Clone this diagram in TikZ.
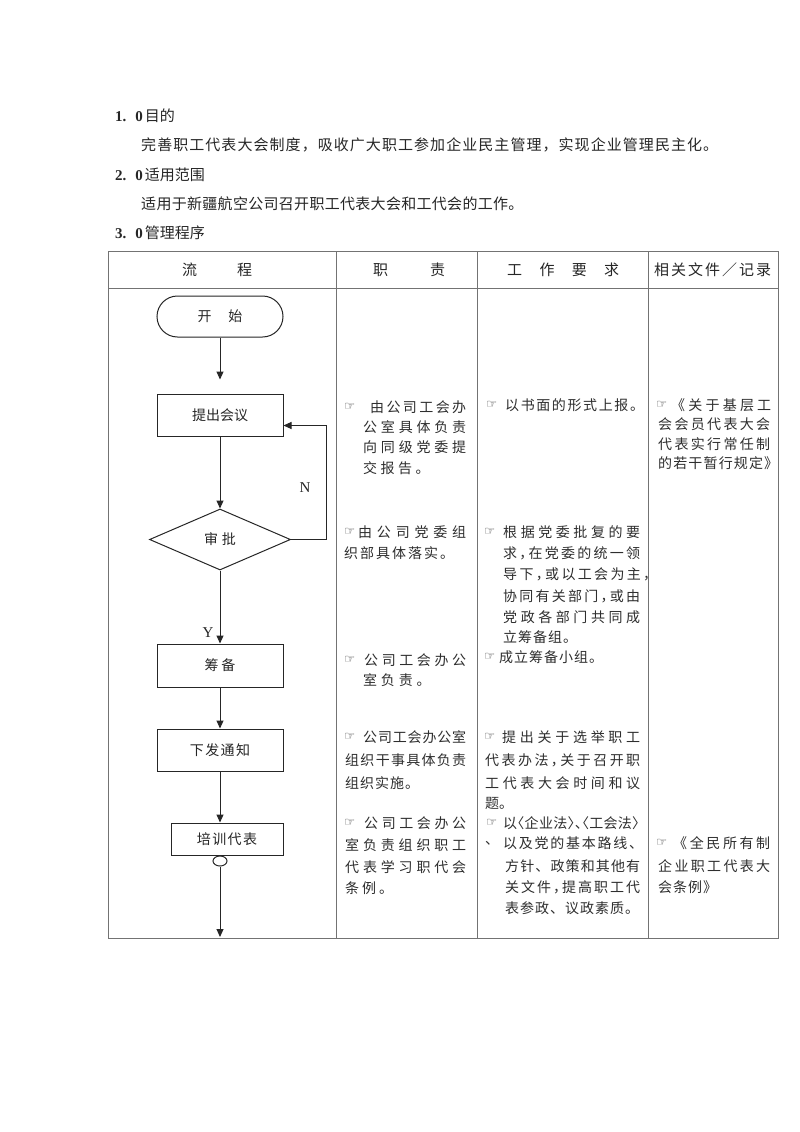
\documentclass[tikz,border=0pt]{standalone}
\usepackage{fontspec}
\setmainfont{Liberation Serif}
\newfontfamily\cjk{Noto Sans CJK SC}
\newfontfamily\cjkh[RawFeature=+halt]{Noto Sans CJK SC}
\newfontfamily\handfont{DejaVu Sans}
\usetikzlibrary{arrows.meta,shapes.geometric,calc}
\newdimen\cg
\def\jlx#1#2{#1\ifx\relax#2\else\hskip\cg plus 1fil\relax\expandafter\jlx\expandafter#2\fi}
\newcommand\js[2]{\makebox[#1pt][s]{\cg=0pt\jlx#2\relax}}
\newcommand\jn[2]{{\cg=#1\relax\jlx#2\relax}}
\newcommand\TLine[4]{\node[txt] (#1) at (#2,#3) {#4};}
\newcommand\THand[3]{\node[hand] (#1) at (#2,#3) {☞};}
\begin{document}
\begin{tikzpicture}[x=1pt,y=-1pt,
  flow/.style={draw=black!85,line width=1pt,text=black!85,font=\cjk\fontsize{14}{14}\selectfont},
  box/.style={flow,rectangle,inner sep=0},
  arr/.style={draw=black!85,line width=1pt,-{Triangle[length=8pt,width=7pt]}},
  grid/.style={draw=black!55,line width=1pt},
  txt/.style={anchor=west,inner sep=0,text=black!82,font=\cjk\fontsize{14}{14}\selectfont},
  hd/.style={anchor=west,inner sep=0,text=black!85,font=\cjk\fontsize{15}{15}\selectfont},
  hand/.style={anchor=west,inner sep=0,text=black!75,font=\handfont\fontsize{12.5}{12.5}\selectfont},
  lat/.style={inner sep=0,text=black!85,font=\fontsize{15}{15}\selectfont}]
\useasboundingbox (0,0) rectangle (800,1132);
\fill[white] (0,0) rectangle (800,1132);

% headings
\node[hd] (h1) at (115,116) {{\rmfamily\bfseries\fontsize{15}{15}\selectfont 1.\hspace{9pt}0}\hspace{2pt}目的};
\node[hd] (b1) at (141,145) {\js{577}{完善职工代表大会制度，吸收广大职工参加企业民主管理，实现企业管理民主化。}};
\node[hd] (h2) at (115,175) {{\rmfamily\bfseries\fontsize{15}{15}\selectfont 2.\hspace{9pt}0}\hspace{2pt}适用范围};
\node[hd] (b2) at (141,204) {\jn{0.3pt}{适用于新疆航空公司召开职工代表大会和工代会的工作。}};
\node[hd] (h3) at (115,233) {{\rmfamily\bfseries\fontsize{15}{15}\selectfont 3.\hspace{9pt}0}\hspace{2pt}管理程序};

% table
\draw[grid] (108,251) rectangle (778,938);
\draw[grid] (108,288) -- (778,288);
\draw[grid] (336,251) -- (336,938);
\draw[grid] (477,251) -- (477,938);
\draw[grid] (648,251) -- (648,938);

\node[hd] (th1) at (182,269.5) {\jn{40pt}{流程}};
\node[hd] (th2) at (373,269.5) {\jn{42pt}{职责}};
\node[hd] (th3) at (507,269.5) {\jn{17.3pt}{工作要求}};
\node[hd] (th4) at (654,269.5) {\cjkh\jn{2pt}{相关文件／记录}};

% flow chart
\node[box, rounded corners=20.5pt, minimum width=126pt, minimum height=41pt] (start) at (220,316.5) {\jn{17pt}{开始}};
\node[box, minimum width=126pt, minimum height=42pt] (p1) at (220,415) {\jn{0pt}{提出会议}};
\node[flow, diamond, inner sep=0, minimum width=141pt, minimum height=61pt] (d) at (220,539.5) {\jn{4pt}{审批}};
\node[box, minimum width=126pt, minimum height=43pt] (p2) at (220,665.5) {\jn{3pt}{筹备}};
\node[box, minimum width=126pt, minimum height=42pt] (p3) at (220,750) {\jn{1.5pt}{下发通知}};
\node[box, minimum width=112pt, minimum height=32pt] (p4) at (227,839) {\jn{1.5pt}{培训代表}};
\node[flow, ellipse, inner sep=0, minimum width=14pt, minimum height=10pt] (e) at (220,861) {};
\coordinate (endp) at (220,937);

\draw[arr, shorten >=14pt] (start.south) -- (p1.north);
\draw[arr] (p1.south) -- (d.north);
\draw[arr] (d.east) -- ++(35.5,0) |- ($(p1.south east)+(0,-11)$);
\draw[arr] (d.south) -- (p2.north);
\draw[arr] (p2.south) -- (p3.north);
\draw[arr] (p3.south) -- (p3.south |- p4.north);
\draw[arr] (e.south) -- (endp);
\node[lat] (nl) at (305,488) {N};
\node[lat] (yl) at (208,633) {Y};

% column 2
\THand{a1}{344}{407}
\TLine{a1a}{370}{407}{\js{96}{由公司工会办}}
\TLine{a1b}{363}{427}{\js{103}{公室具体负责}}
\TLine{a1c}{363}{447}{\js{103}{向同级党委提}}
\TLine{a1d}{363}{468}{\jn{3.5pt}{交报告。}}
\THand{a2}{344}{532}
\TLine{a2a}{358}{532}{\js{108}{由公司党委组}}
\TLine{a2b}{344}{553}{\jn{2pt}{织部具体落实。}}
\THand{a3}{344}{660}
\TLine{a3a}{364}{660}{\js{102}{公司工会办公}}
\TLine{a3b}{363}{680}{\jn{3.8pt}{室负责。}}
\THand{a4}{344}{737}
\TLine{a4a}{363}{737}{\js{103}{公司工会办公室}}
\TLine{a4b}{345}{760}{\js{121}{组织干事具体负责}}
\TLine{a4c}{345}{783}{\jn{1pt}{组织实施。}}
\THand{a5}{344}{823}
\TLine{a5a}{364}{823}{\js{102}{公司工会办公}}
\TLine{a5b}{345}{845}{\js{121}{室负责组织职工}}
\TLine{a5c}{345}{867}{\js{121}{代表学习职代会}}
\TLine{a5d}{345}{888}{\jn{3pt}{条例。}}

% column 3
\THand{w1}{486}{405}
\TLine{w1a}{505}{405}{\jn{1.6pt}{以书面的形式上报。}}
\THand{w2}{484}{532}
\TLine{w2a}{503}{532}{\js{137}{根据党委批复的要}}
\TLine{w2b}{503}{553}{\cjkh\js{137}{求，在党委的统一领}}
\TLine{w2c}{503}{574}{\cjkh\js{147}{导下，或以工会为主，}}
\TLine{w2d}{503}{596}{\cjkh\js{137}{协同有关部门，或由}}
\TLine{w2e}{503}{617}{\js{137}{党政各部门共同成}}
\TLine{w2f}{503}{637}{\jn{1pt}{立筹备组。}}
\THand{w3}{484}{657}
\TLine{w3a}{499}{657}{\jn{1pt}{成立筹备小组。}}
\THand{w4}{484}{737}
\TLine{w4a}{502}{737}{\js{138}{提出关于选举职工}}
\TLine{w4b}{485}{760}{\cjkh\js{155}{代表办法，关于召开职}}
\TLine{w4c}{485}{783}{\js{155}{工代表大会时间和议}}
\TLine{w4d}{485}{803}{题。}
\THand{w5}{486}{823}
\TLine{w5a}{503}{823}{\cjkh\js{136}{以〈企业法〉、〈工会法〉}}
\TLine{w5b}{485}{843}{、}
\TLine{w5c}{503}{843}{\js{140}{以及党的基本路线、}}
\TLine{w5d}{505}{866}{\js{135}{方针、政策和其他有}}
\TLine{w5e}{505}{887}{\cjkh\js{135}{关文件，提高职工代}}
\TLine{w5f}{505}{908}{\jn{1pt}{表参政、议政素质。}}

% column 4
\THand{r1}{656}{405}
\TLine{r1a}{671}{405}{\js{100}{《关于基层工}}
\TLine{r1b}{658}{424}{\js{112}{会会员代表大会}}
\TLine{r1c}{658}{444}{\js{112}{代表实行常任制}}
\TLine{r1d}{658}{463}{\js{120}{的若干暂行规定》}}
\THand{r2}{656}{843}
\TLine{r2a}{673}{843}{\js{97}{《全民所有制}}
\TLine{r2b}{658}{866}{\js{112}{企业职工代表大}}
\TLine{r2c}{658}{887}{\jn{1pt}{会条例》}}
\end{tikzpicture}
\end{document}
